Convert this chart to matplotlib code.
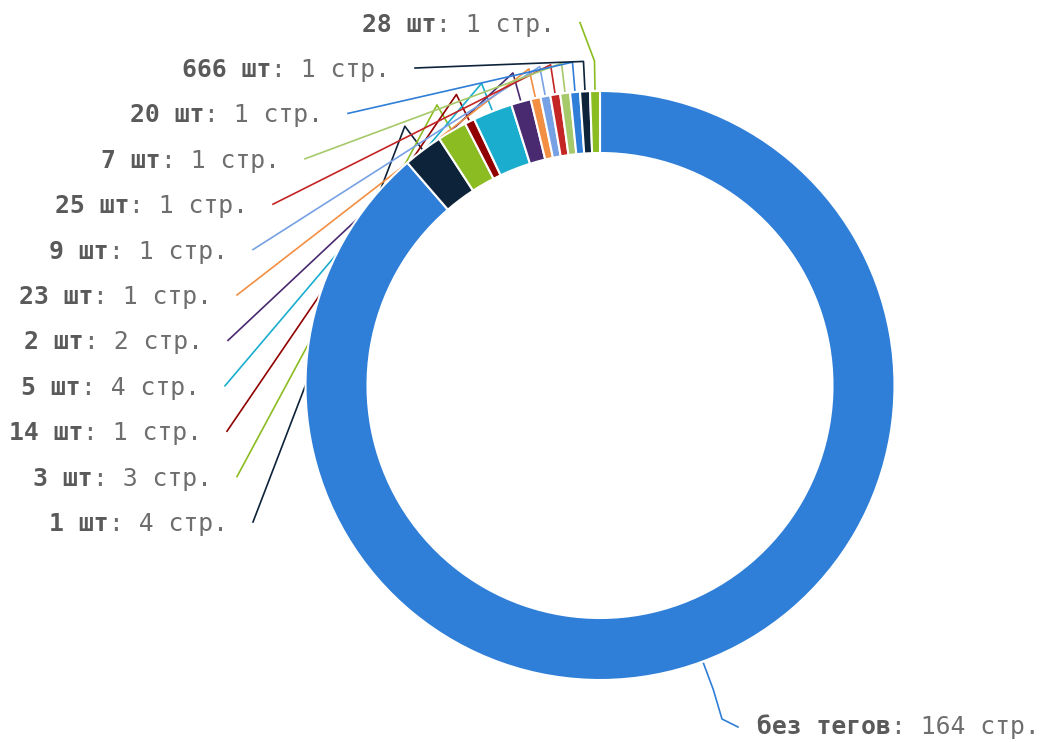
import matplotlib.pyplot as plt
import numpy as np

# data
tags = ["без тегов", "1 шт", "3 шт", "14 шт", "5 шт", "2 шт", "23 шт",
        "9 шт", "25 шт", "7 шт", "20 шт", "666 шт", "28 шт"]
pages = [164, 4, 3, 1, 4, 2, 1, 1, 1, 1, 1, 1, 1]

hc_colors = ['#2f7ed8', '#0d233a', '#8bbc21', '#910000', '#1aadce', '#492970',
             '#f28f43', '#77a1e5', '#c42525', '#a6c96a']
colors = [hc_colors[i % len(hc_colors)] for i in range(len(pages))]

W, H = 1041, 742
fig = plt.figure(figsize=(W / 100, H / 100), dpi=100)
ax = fig.add_axes([0, 0, 1, 1])

cx, cy = 600, H - 385.5
R, ring = 294.5, 62

wedges, _ = ax.pie(pages, colors=colors, startangle=90, counterclock=False,
                   center=(cx, cy), radius=R, frame=True,
                   wedgeprops=dict(width=ring, edgecolor='white', linewidth=1.5))
for w in wedges:
    w.set_zorder(3)
ax.set_xlim(0, W)
ax.set_ylim(0, H)
ax.axis('off')

fs = 17.8
charw = 0.602 * fs * 100 / 72
boldc = '#5a5a5a'
txtc = '#6e6e6e'

def put_label(x, y, bold, rest, side):
    # side 'left' -> text ends at x; 'right' -> text starts at x
    if side == 'left':
        ax.text(x, y, rest, ha='right', va='center', fontsize=fs,
                family='DejaVu Sans Mono', color=txtc)
        ax.text(x - len(rest) * charw, y, bold, ha='right', va='center', fontsize=fs,
                family='DejaVu Sans Mono', weight='bold', color=boldc)
    else:
        ax.text(x, y, bold, ha='left', va='center', fontsize=fs,
                family='DejaVu Sans Mono', weight='bold', color=boldc)
        ax.text(x + len(bold) * charw, y, rest, ha='left', va='center', fontsize=fs,
                family='DejaVu Sans Mono', color=txtc)

def mid_point(w, r):
    a = np.radians((w.theta1 + w.theta2) / 2)
    return cx + r * np.cos(a), cy + r * np.sin(a)

# left labels, slices 1..12 from bottom to top
left_end = [228, 212, 202, 200, 203, 212, 228, 248, 280, 323, 390, 555]
for k, i in enumerate(range(1, len(pages))):
    y = H - (524 - 45.4 * k)
    xe = left_end[k]
    put_label(xe, y, tags[i], f": {pages[i]} стр.", 'left')
    bx, by = mid_point(wedges[i], R + 30)
    axx, ayy = mid_point(wedges[i], R + 2)
    ax.plot([xe + 25, bx, axx], [y + 2, by, ayy], color=colors[i],
            lw=1.2, zorder=1, solid_joinstyle='round')

# main slice label on the right
y0 = H - 727
put_label(757, y0, tags[0], f": {pages[0]} стр.", 'right')
bx, by = mid_point(wedges[0], R + 30)
axx, ayy = mid_point(wedges[0], R + 2)
ax.plot([738, 722, bx, axx], [y0, y0 + 8, by, ayy], color=colors[0], lw=1.2,
        zorder=1, solid_joinstyle='round')

fig.savefig('out.png', dpi=100, facecolor='white')
